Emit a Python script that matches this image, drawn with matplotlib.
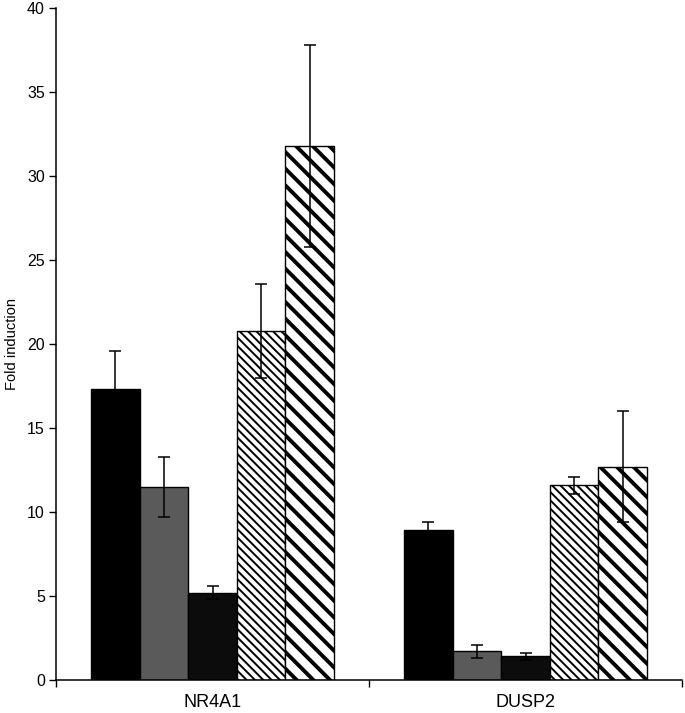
import matplotlib
matplotlib.use("Agg")
import matplotlib.pyplot as plt
import numpy as np

plt.rcParams['font.family'] = ['Liberation Sans', 'DejaVu Sans']

genes = ["NR4A1", "DUSP2"]
series_values = [
    [17.3, 8.9],
    [11.5, 1.7],
    [5.2, 1.4],
    [20.8, 11.6],
    [31.8, 12.7],
]
series_errors = [
    [2.3, 0.5],
    [1.8, 0.4],
    [0.4, 0.2],
    [2.8, 0.5],
    [6.0, 3.3],
]
y_ticks = [0, 5, 10, 15, 20, 25, 30, 35, 40]

facecolors = ["#000000", "#5a5a5a", "#0c0c0c", "white", "white"]
hatches = [None, None, None, "\\\\\\\\", "\\\\"]
hatch_lws = [1.0, 1.0, 1.0, 1.4, 2.8]

fig = plt.figure(figsize=(6.85, 7.13), dpi=100)
ax = fig.add_axes([56/685, 1 - 680/713, (682 - 56)/685, (680 - 8)/713])

n = len(series_values)
width = 0.155
centers = np.arange(len(genes)) + 0.5
for i, (vals, errs) in enumerate(zip(series_values, series_errors)):
    xs = centers + (i - (n - 1) / 2) * width
    bars = ax.bar(xs, vals, width=width, color=facecolors[i], edgecolor="black",
                  linewidth=1.0, hatch=hatches[i], zorder=2)
    for b in bars:
        try:
            b.set_hatch_linewidth(hatch_lws[i])
        except AttributeError:
            pass
    ax.errorbar(xs, vals, yerr=errs, fmt="none", ecolor="black", elinewidth=1.1,
                capsize=4, capthick=1.1, zorder=3)

ax.set_xlim(0, len(genes))
ax.set_ylim(0, 40)
ax.set_yticks(y_ticks)
ax.set_xticks(np.arange(len(genes) + 1))
ax.set_xticklabels([])
ax.set_xticks(centers, minor=True)
ax.set_xticklabels(genes, minor=True, fontsize=13)
ax.tick_params(axis="x", which="minor", length=0, pad=10)
ax.tick_params(axis="x", which="major", direction="out", length=5, width=1)
ax.tick_params(axis="y", direction="out", length=5, width=1, labelsize=11.5, pad=3)

for s in ["top", "right"]:
    ax.spines[s].set_visible(False)
ax.spines["left"].set_linewidth(1.1)
ax.spines["bottom"].set_linewidth(1.1)

ax.set_ylabel("Fold induction", fontsize=10.5, labelpad=6)

fig.savefig("out.png", dpi=100)
